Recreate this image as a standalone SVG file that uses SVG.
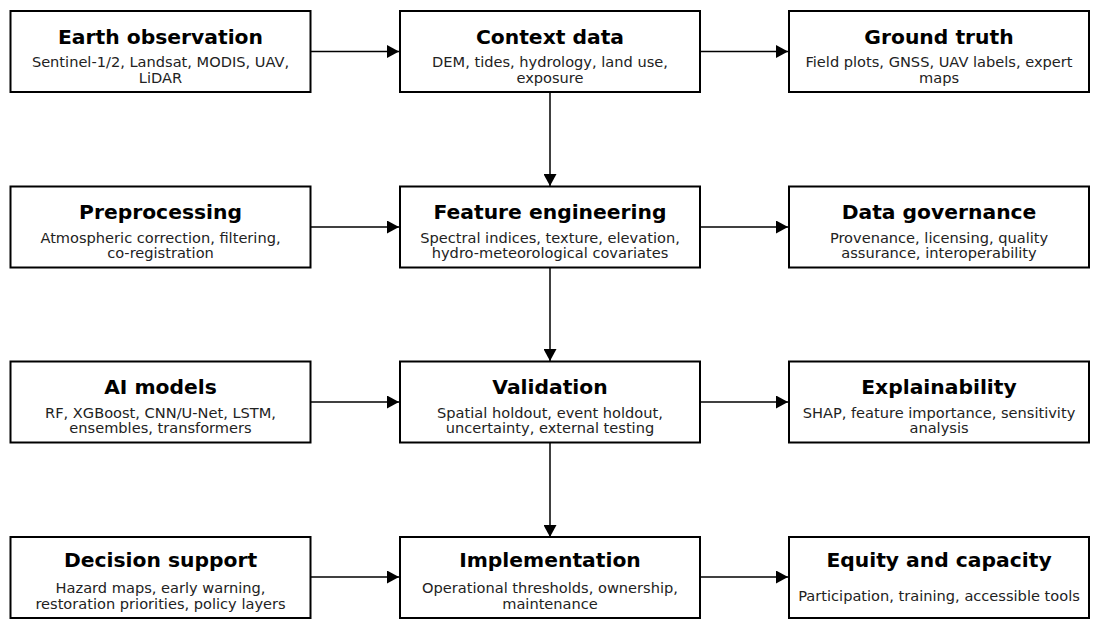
<svg xmlns="http://www.w3.org/2000/svg" width="1099" height="628" viewBox="0 0 1099 628">
<defs>
<style>
.box{fill:#fff;stroke:#000;stroke-width:2}
.t{font-family:"DejaVu Sans",sans-serif;font-weight:bold;font-size:20.3px;fill:#000;text-anchor:middle}
.s{font-family:"DejaVu Sans",sans-serif;font-size:14.6px;fill:#222;text-anchor:middle}
.c{stroke:#000;stroke-width:1.5;fill:none;marker-end:url(#ah)}
</style>
<marker id="ah" markerUnits="userSpaceOnUse" markerWidth="12" markerHeight="13" refX="12" refY="6.5" orient="auto">
<path d="M0,0 L12,6.5 L0,13 z" fill="#000"/>
</marker>
</defs>
<rect width="1099" height="628" fill="#fff"/>
<g id="connectors">
<line class="c" x1="311" y1="51.5" x2="399" y2="51.5"/>
<line class="c" x1="701" y1="51.5" x2="788" y2="51.5"/>
<line class="c" x1="550" y1="92" x2="550" y2="186"/>
<line class="c" x1="311" y1="227" x2="399" y2="227"/>
<line class="c" x1="701" y1="227" x2="788" y2="227"/>
<line class="c" x1="550" y1="268" x2="550" y2="361"/>
<line class="c" x1="311" y1="402" x2="399" y2="402"/>
<line class="c" x1="701" y1="402" x2="788" y2="402"/>
<line class="c" x1="550" y1="443" x2="550" y2="537"/>
<line class="c" x1="311" y1="577" x2="399" y2="577"/>
<line class="c" x1="701" y1="577" x2="788" y2="577"/>
</g>
<g id="earth-observation">
<rect class="box" x="10.5" y="11" width="300" height="81"/>
<text class="t" x="160.5" y="43.5">Earth observation</text>
<text class="s" x="160.5" y="67">Sentinel-1/2, Landsat, MODIS, UAV,</text>
<text class="s" x="160.5" y="82.5">LiDAR</text>
</g>
<g id="context-data">
<rect class="box" x="400" y="11" width="300" height="81"/>
<text class="t" x="550" y="43.5">Context data</text>
<text class="s" x="550" y="67">DEM, tides, hydrology, land use,</text>
<text class="s" x="550" y="82.5">exposure</text>
</g>
<g id="ground-truth">
<rect class="box" x="789" y="11" width="300" height="81"/>
<text class="t" x="939" y="43.5">Ground truth</text>
<text class="s" x="939" y="67">Field plots, GNSS, UAV labels, expert</text>
<text class="s" x="939" y="82.5">maps</text>
</g>
<g id="preprocessing">
<rect class="box" x="10.5" y="186.5" width="300" height="81"/>
<text class="t" x="160.5" y="219">Preprocessing</text>
<text class="s" x="160.5" y="242.5">Atmospheric correction, filtering,</text>
<text class="s" x="160.5" y="258">co-registration</text>
</g>
<g id="feature-engineering">
<rect class="box" x="400" y="186.5" width="300" height="81"/>
<text class="t" x="550" y="219">Feature engineering</text>
<text class="s" x="550" y="242.5">Spectral indices, texture, elevation,</text>
<text class="s" x="550" y="258">hydro-meteorological covariates</text>
</g>
<g id="data-governance">
<rect class="box" x="789" y="186.5" width="300" height="81"/>
<text class="t" x="939" y="219">Data governance</text>
<text class="s" x="939" y="242.5">Provenance, licensing, quality</text>
<text class="s" x="939" y="258">assurance, interoperability</text>
</g>
<g id="ai-models">
<rect class="box" x="10.5" y="361.5" width="300" height="81"/>
<text class="t" x="160.5" y="394">AI models</text>
<text class="s" x="160.5" y="417.5">RF, XGBoost, CNN/U-Net, LSTM,</text>
<text class="s" x="160.5" y="433">ensembles, transformers</text>
</g>
<g id="validation">
<rect class="box" x="400" y="361.5" width="300" height="81"/>
<text class="t" x="550" y="394">Validation</text>
<text class="s" x="550" y="417.5">Spatial holdout, event holdout,</text>
<text class="s" x="550" y="433">uncertainty, external testing</text>
</g>
<g id="explainability">
<rect class="box" x="789" y="361.5" width="300" height="81"/>
<text class="t" x="939" y="394">Explainability</text>
<text class="s" x="939" y="417.5">SHAP, feature importance, sensitivity</text>
<text class="s" x="939" y="433">analysis</text>
</g>
<g id="decision-support">
<rect class="box" x="10.5" y="537" width="300" height="81"/>
<text class="t" x="160.5" y="567">Decision support</text>
<text class="s" x="160.5" y="593">Hazard maps, early warning,</text>
<text class="s" x="160.5" y="608.5">restoration priorities, policy layers</text>
</g>
<g id="implementation">
<rect class="box" x="400" y="537" width="300" height="81"/>
<text class="t" x="550" y="567">Implementation</text>
<text class="s" x="550" y="593">Operational thresholds, ownership,</text>
<text class="s" x="550" y="608.5">maintenance</text>
</g>
<g id="equity-and-capacity">
<rect class="box" x="789" y="537" width="300" height="81"/>
<text class="t" x="939" y="567">Equity and capacity</text>
<text class="s" x="939" y="600.5">Participation, training, accessible tools</text>
</g>
</svg>
